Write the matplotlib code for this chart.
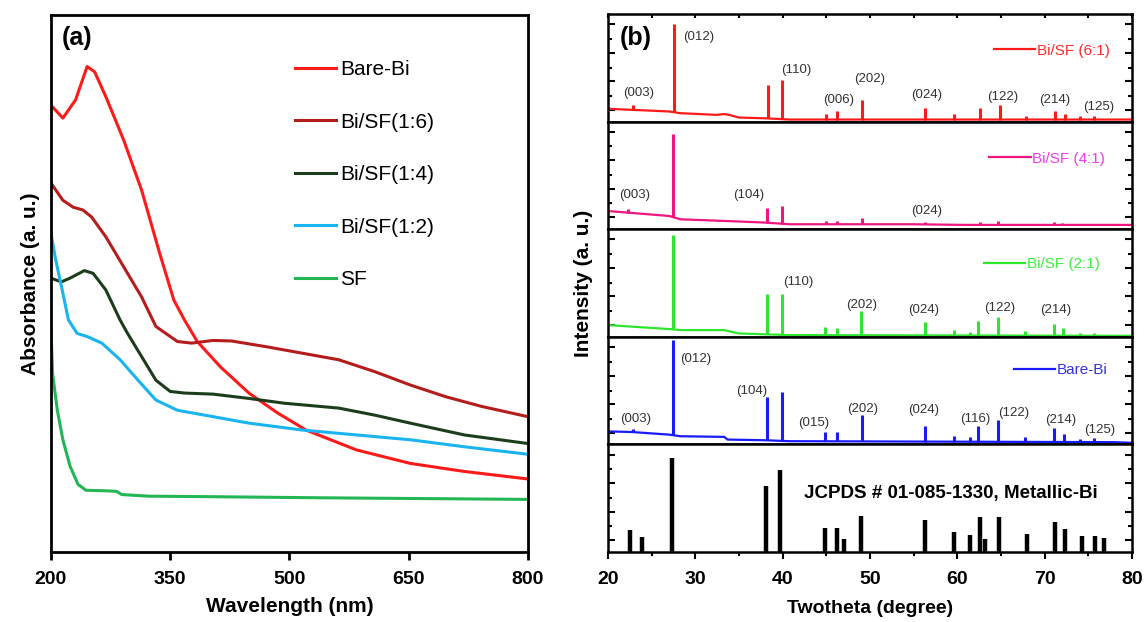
import numpy as np
import matplotlib
matplotlib.use("Agg")
import matplotlib.pyplot as plt
from matplotlib.ticker import MultipleLocator

plt.rcParams['font.family'] = ['Liberation Sans', 'DejaVu Sans']

# ---------------- (a) UV-vis absorbance ----------------
bare_wl = [200, 215, 231, 245.5, 255, 269, 291.5, 314, 336.6, 354.6, 368, 384, 413, 449, 485, 521, 584.5, 652, 720, 800]
bare_abs = [0.832, 0.808, 0.842, 0.904, 0.894, 0.848, 0.767, 0.674, 0.557, 0.469, 0.432, 0.392, 0.345, 0.296, 0.259,
            0.227, 0.190, 0.165, 0.150, 0.136]

bisf16_wl = [200, 215, 228, 240, 251, 269, 291.5, 314, 332, 359, 377, 404, 427, 472, 517, 562, 607, 652, 697, 742, 800]
bisf16_abs = [0.687, 0.655, 0.642, 0.637, 0.624, 0.587, 0.531, 0.475, 0.420, 0.392, 0.389, 0.394, 0.393, 0.382,
              0.370, 0.358, 0.336, 0.311, 0.289, 0.271, 0.252]

bisf14_wl = [200, 213, 224, 242, 253, 269, 287, 296, 314, 332, 350, 368, 404, 449, 494, 562, 607, 652, 720, 800]
bisf14_abs = [0.510, 0.503, 0.510, 0.524, 0.519, 0.488, 0.432, 0.408, 0.364, 0.320, 0.299, 0.296, 0.294, 0.286,
              0.277, 0.268, 0.255, 0.240, 0.218, 0.202]

bisf12_wl = [200, 206, 215, 222, 233, 246, 264, 287, 309.5, 332, 359, 404, 449, 517, 584.5, 652, 720, 800]
bisf12_abs = [0.593, 0.544, 0.482, 0.432, 0.407, 0.401, 0.389, 0.358, 0.320, 0.283, 0.264, 0.252, 0.240, 0.227,
              0.218, 0.209, 0.196, 0.182]

sf_wl = [200, 202, 208, 215, 224, 234, 244, 269, 282.5, 289, 323, 404, 539, 800]
sf_abs = [0.417, 0.333, 0.264, 0.209, 0.160, 0.126, 0.115, 0.114, 0.113, 0.107, 0.104, 0.103, 0.101, 0.098]

# ---------------- (b) XRD ----------------
xrd_labels = ['Bi/SF (6:1)', 'Bi/SF (4:1)', 'Bi/SF (2:1)', 'Bare-Bi']

base61_x = [20, 24, 27.0, 28.3, 30, 32.4, 33.3, 34.0, 35.0, 37.9, 40.8, 80]
base61_y = [0.119, 0.105, 0.094, 0.078, 0.072, 0.0625, 0.07, 0.06, 0.0375, 0.031, 0.019, 0.019]
peak61_x = [22.86, 27.52, 38.32, 39.92, 44.92, 46.2, 49.08, 56.3, 59.6, 62.56, 64.9, 67.86, 71.18, 72.35, 74.03, 75.6]
peak61_h = [0.156, 0.91, 0.344, 0.384, 0.069, 0.10, 0.20, 0.131, 0.069, 0.131, 0.15, 0.056, 0.094, 0.069, 0.05, 0.05]
hkl61 = ['(003)', '(012)', '(110)', '(006)', '(202)', '(024)', '(122)', '(214)', '(125)']
hkl61_x = [23.5, 30.4, 41.6, 46.4, 50.0, 56.5, 65.2, 71.2, 76.2]
hkl61_y = [0.266, 0.79, 0.48, 0.20, 0.40, 0.244, 0.23, 0.20, 0.14]

base41_x = [20, 22.3, 27.0, 28.3, 33.3, 37.9, 40.8, 54.8, 61, 80]
base41_y = [0.169, 0.154, 0.123, 0.092, 0.077, 0.062, 0.046, 0.046, 0.04, 0.04]
peak41_x = [22.27, 27.48, 38.24, 39.87, 44.92, 46.2, 49.03, 56.3, 62.56, 64.7, 67.7, 71.1, 72.0]
peak41_h = [0.185, 0.883, 0.194, 0.215, 0.077, 0.077, 0.10, 0.071, 0.071, 0.077, 0.052, 0.071, 0.06]
hkl41 = ['(003)', '(104)', '(024)']
hkl41_x = [23.1, 36.1, 56.5]
hkl41_y = [0.317, 0.314, 0.169]

base21_x = [20, 27.0, 28.3, 33.3, 35.0, 40.8, 80]
base21_y = [0.109, 0.072, 0.0625, 0.0625, 0.031, 0.016, 0.009]
peak21_x = [27.48, 38.2, 39.87, 44.83, 46.18, 48.95, 56.3, 59.6, 61.4, 62.35, 64.7, 67.7, 71.1, 72.1, 74.0, 75.7]
peak21_h = [0.947, 0.397, 0.40, 0.094, 0.078, 0.24, 0.14, 0.0625, 0.047, 0.147, 0.1875, 0.053, 0.116, 0.078,
            0.0375, 0.0375]
hkl21 = ['(110)', '(202)', '(024)', '(122)', '(214)']
hkl21_x = [41.8, 49.1, 56.2, 64.9, 71.3]
hkl21_y = [0.51, 0.30, 0.25, 0.27, 0.25]

basebi_x = [20, 22.8, 27.0, 28.3, 33.3, 33.7, 37.9, 40.8, 78, 80]
basebi_y = [0.121, 0.115, 0.091, 0.076, 0.07, 0.045, 0.039, 0.03, 0.021, 0.015]
peakbi_x = [22.86, 27.48, 38.2, 39.92, 44.87, 46.18, 49.03, 56.3, 59.6, 61.4, 62.4, 64.7, 67.7, 71.1, 72.2, 74.0, 75.6]
peakbi_h = [0.145, 0.975, 0.44, 0.49, 0.115, 0.112, 0.273, 0.173, 0.082, 0.07, 0.173, 0.227, 0.07, 0.152, 0.097,
            0.052, 0.06]
hklbi = ['(003)', '(012)', '(104)', '(015)', '(202)', '(024)', '(116)', '(122)', '(214)', '(125)']
hklbi_x = [23.15, 30.0, 36.5, 43.5, 49.2, 56.2, 62.1, 66.5, 71.8, 76.3]
hklbi_y = [0.233, 0.79, 0.50, 0.197, 0.333, 0.324, 0.233, 0.288, 0.227, 0.136]

jcpds_x = [22.53, 23.88, 27.30, 38.10, 39.70, 44.85, 46.20, 47.00, 48.99, 56.29, 59.66, 61.43, 62.62, 63.21,
           64.81, 67.97, 71.14, 72.32, 74.30, 75.78, 76.84]
jcpds_h = [0.203, 0.141, 0.875, 0.616, 0.766, 0.219, 0.219, 0.125, 0.334, 0.297, 0.188, 0.156, 0.322, 0.119,
           0.322, 0.166, 0.278, 0.213, 0.150, 0.153, 0.131]

fig = plt.figure(figsize=(11.45, 6.22), dpi=100)

# ---- panel (a) ----
ax = fig.add_axes([0.0445, 0.1125, 0.4166, 0.8634])
ax.plot(bare_wl, bare_abs, color='#ff1a1a', lw=2.2, label='Bare-Bi')
ax.plot(bisf16_wl, bisf16_abs, color='#b51c1c', lw=2.2, label='Bi/SF(1:6)')
ax.plot(bisf14_wl, bisf14_abs, color='#1c3d1c', lw=2.2, label='Bi/SF(1:4)')
ax.plot(bisf12_wl, bisf12_abs, color='#1ab4f0', lw=2.2, label='Bi/SF(1:2)')
ax.plot(sf_wl, sf_abs, color='#22b655', lw=2.2, label='SF')
ax.set_xlim(200, 800)
ax.set_ylim(0, 1)
ax.set_xticks([200, 350, 500, 650, 800])
ax.set_yticks([])
ax.tick_params(axis='x', direction='out', length=6, width=2, labelsize=14, pad=8)
for lab in ax.get_xticklabels():
    lab.set_fontweight('bold')
for sp in ax.spines.values():
    sp.set_linewidth(2)
ax.set_xlabel('Wavelength (nm)', fontsize=15, fontweight='bold', labelpad=6)
ax.set_ylabel('Absorbance (a. u.)', fontsize=15, fontweight='bold', labelpad=8)
ax.text(0.023, 0.958, '(a)', transform=ax.transAxes, fontsize=18, fontweight='bold', va='center')
ax.legend(loc='upper left', bbox_to_anchor=(0.512, 0.916), frameon=False, fontsize=15,
          handlelength=1.95, handletextpad=0.2, labelspacing=1.61, borderpad=0, borderaxespad=0)

# ---- panel (b) ----
left, width = 0.531, 0.4576
bottom, top = 0.1125, 0.9775
ph = (top - bottom) / 5
axes_b = []
for i in range(5):
    a = fig.add_axes([left, top - (i + 1) * ph, width, ph])
    axes_b.append(a)

series = [
    (base61_x, base61_y, peak61_x, peak61_h, hkl61, hkl61_x, hkl61_y, '#ff1a1a', '#ff2a2a', 0.737, 0.66),
    (base41_x, base41_y, peak41_x, peak41_h, hkl41, hkl41_x, hkl41_y, '#f0167f', '#f03cf0', 0.728, 0.655),
    (base21_x, base21_y, peak21_x, peak21_h, hkl21, hkl21_x, hkl21_y, '#2ee62e', '#3cf03c', 0.718, 0.678),
    (basebi_x, basebi_y, peakbi_x, peakbi_h, hklbi, hklbi_x, hklbi_y, '#1a1aff', '#3333dd', 0.775, 0.688),
]

for a, name, (bx, by, px, pk, hkl, hx, hy, col, tcol, lx, ly) in zip(axes_b, xrd_labels, series):
    line, = a.plot(bx, by, color=col, lw=1.6)
    foot = np.interp(px, bx, by)
    a.vlines(px, foot, pk, color=col, lw=2.2)
    for s, x, y in zip(hkl, hx, hy):
        a.text(x, y, s, ha='center', va='center', fontsize=9.5, color='#333333')
    a.legend([line], [name], loc='center left', bbox_to_anchor=(lx, ly), frameon=False, fontsize=11,
             handlelength=2.7, handletextpad=0.1, borderpad=0, borderaxespad=0, labelcolor=[tcol])

ax_j = axes_b[4]
ax_j.vlines(jcpds_x, 0, jcpds_h, color='black', lw=3.2)
ax_j.text(42.4, 0.547, 'JCPDS # 01-085-1330, Metallic-Bi', fontsize=13.5, fontweight='bold', va='center')

for i, a in enumerate(axes_b):
    a.set_xlim(20, 80)
    a.set_ylim(0, 1)
    a.set_yticks([0.11, 0.375, 0.64, 0.906])
    a.set_yticks([0.24, 0.5, 0.77], minor=True)
    a.tick_params(axis='y', which='both', direction='in', left=True, right=True, labelleft=False, width=1.5)
    a.tick_params(axis='y', which='major', length=5)
    a.tick_params(axis='y', which='minor', length=3)
    for sp in a.spines.values():
        sp.set_linewidth(1.8)
    if i < 4:
        a.tick_params(axis='x', which='both', bottom=False, labelbottom=False)
    if i == 0:
        a.xaxis.set_minor_locator(MultipleLocator(5))
        a.tick_params(axis='x', which='both', top=True, direction='in', length=3, width=1.5)

ax_j.set_xticks([20, 30, 40, 50, 60, 70, 80])
ax_j.xaxis.set_minor_locator(MultipleLocator(5))
ax_j.tick_params(axis='x', which='major', direction='out', length=5, width=1.5, labelsize=14, pad=9)
ax_j.tick_params(axis='x', which='minor', direction='out', length=3, width=1.5)
for lab in ax_j.get_xticklabels():
    lab.set_fontweight('bold')
ax_j.set_xlabel('Twotheta (degree)', fontsize=14, fontweight='bold', labelpad=8)

axes_b[0].text(0.023, 0.78, '(b)', transform=axes_b[0].transAxes, fontsize=18, fontweight='bold', va='center')
fig.text(0.51, (bottom + top) / 2, 'Intensity (a. u.)', rotation=90, fontsize=15, fontweight='bold',
         ha='center', va='center')

fig.savefig('out.png', dpi=100)
